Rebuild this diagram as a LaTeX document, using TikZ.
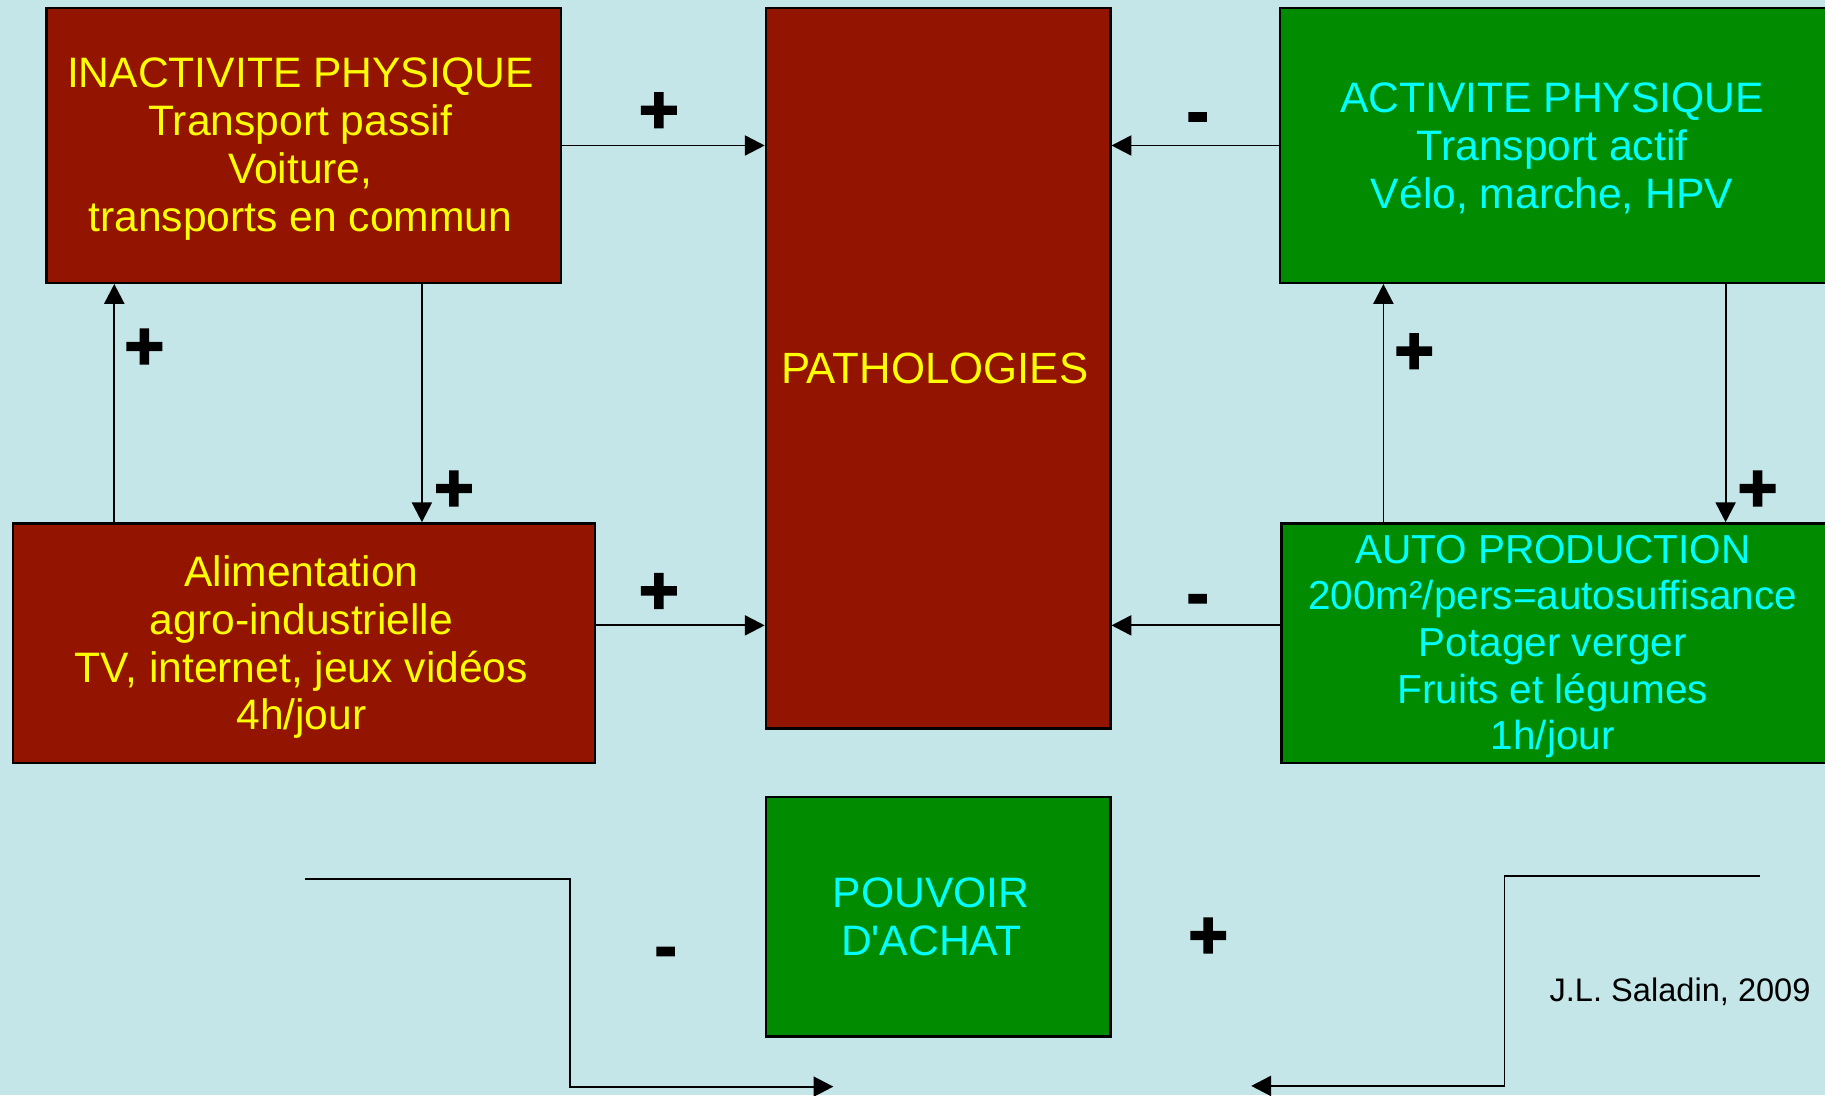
\documentclass[tikz,border=0pt]{standalone}
\usepackage{fontspec}
\newfontfamily\lib{Liberation Sans}[Ligatures=TeXOff]
\newfontfamily\signfont{Liberation Sans}[BoldFeatures={FakeBold=3}]
\usetikzlibrary{arrows.meta,calc}
\definecolor{bg}{RGB}{196,230,232}
\definecolor{boxred}{RGB}{147,20,0}
\definecolor{boxgreen}{RGB}{0,139,0}
\definecolor{txtyellow}{RGB}{255,255,0}
\definecolor{txtcyan}{RGB}{0,255,255}
\begin{document}
\begin{tikzpicture}[x=0.5pt,y=-0.5pt,
  box/.style={draw=black,line width=1pt,rectangle,inner sep=0pt},
  redbox/.style={box,fill=boxred},
  greenbox/.style={box,fill=boxgreen},
  boxtext/.style={inner sep=0pt,align=center,font=\lib\fontsize{18.3}{20.5}\selectfont},
  redtext/.style={boxtext,text=txtyellow},
  greentext/.style={boxtext,text=txtcyan},
  arr/.style={draw=black,line width=0.8pt,-{Triangle[length=8.5pt,width=8.6pt]}},
  plus/.style={inner sep=0pt,text=black,font=\signfont\fontsize{29}{30}\selectfont\bfseries},
  minus/.style={inner sep=0pt,text=black,anchor=base,font=\signfont\fontsize{28}{30}\selectfont\bfseries}]
\fill[bg] (0,0) rectangle (1568,941);
\useasboundingbox (0,0) rectangle (1568,941);

% boxes
\node[redbox,minimum width=221pt,minimum height=118pt] (inact) at (261,125) {};
\node[redbox,minimum width=148pt,minimum height=309.5pt] (path) at (806,316.5) {};
\node[greenbox,minimum width=235pt,minimum height=118pt] (activ) at (1335,125) {};
\node[redbox,minimum width=250pt,minimum height=102.85pt] (alim) at (261,552.5) {};
\node[greenbox,minimum width=234.5pt,minimum height=102.85pt] (auto) at (1335.5,552.5) {};
\node[greenbox,minimum width=148pt,minimum height=103pt] (pouv) at (806,787.6) {};

% box texts
\node[redtext] (inact-t) at ($(inact.center)+(-3,3)$)
  {INACTIVITE PHYSIQUE\\Transport passif\\Voiture,\\transports en commun};
\node[redtext,font=\lib\fontsize{18.8}{21}\selectfont] (path-t) at ($(path.center)+(-3,0)$)
  {PATHOLOGIES};
\node[greentext] (activ-t) at ($(activ.center)+(-1.5,2.5)$)
  {ACTIVITE PHYSIQUE\\Transport actif\\Vélo, marche, HPV};
\node[redtext] (alim-t) at ($(alim.center)+(-2,3.5)$)
  {Alimentation\\agro-industrielle\\TV, internet, jeux vidéos\\4h/jour};
\node[greentext,font=\lib\fontsize{17.4}{20}\selectfont] (auto-t) at ($(auto.center)+(-1.5,3)$)
  {AUTO PRODUCTION\\200m²/pers=autosuffisance\\Potager verger\\Fruits et légumes\\1h/jour};
\node[greentext] (pouv-t) at ($(pouv.center)+(-6,0)$)
  {POUVOIR\\D'ACHAT};

% horizontal connectors to PATHOLOGIES
\draw[arr] (inact.east) -- (inact.east -| path.west);
\draw[arr] (activ.west) -- (activ.west -| path.east);
\coordinate (alimout) at ($(alim.east)+(0,-15.2)$);
\draw[arr] (alimout) -- (alimout -| path.west);
\coordinate (autoout) at ($(auto.west)+(0,-15.2)$);
\draw[arr] (autoout) -- (autoout -| path.east);

% vertical connectors
\coordinate (c1) at ($(inact.south west)+(323.5,0)$);
\draw[arr] (c1) -- (c1 |- alim.north);
\coordinate (c2) at ($(inact.south west)+(59.2,0)$);
\draw[arr] (c2 |- alim.north) -- (c2);
\coordinate (c3) at ($(activ.south west)+(89.6,0)$);
\draw[arr] (c3 |- auto.north) -- (c3);
\coordinate (c4) at ($(activ.south west)+(383.6,0)$);
\draw[arr] (c4) -- (c4 |- auto.north);

% bottom connectors
\coordinate (l0) at (262,755);
\coordinate (l1) at (489.4,755);
\coordinate (l2) at (489.4,933.6);
\coordinate (l3) at (716,933.6);
\draw[arr] (l0) -- (l1) -- (l2) -- (l3);
\coordinate (r0) at (1512,753);
\coordinate (r1) at (1292.6,753);
\coordinate (r2) at (1292.6,933);
\coordinate (r3) at (1075,933);
\draw[arr] (r0) -- (r1) -- (r2) -- (r3);

% signs
\node[plus] (p1) at (566,97) {+};
\node[plus] (p2) at (124,300) {+};
\node[plus] (p3) at (390,422) {+};
\node[plus] (p4) at (566,510) {+};
\node[plus] (p5) at (1215,304) {+};
\node[plus] (p6) at (1510,422) {+};
\node[plus] (p7) at (1038,806) {+};
\node[minus] (m1) at (1029,115) {-};
\node[minus] (m2) at (1029,529) {-};
\node[minus] (m3) at (572,832) {-};

\node[anchor=west,inner sep=0pt,text=black,font=\lib\fontsize{14}{16}\selectfont] (author) at (1331,852) {J.L. Saladin, 2009};
\end{tikzpicture}
\end{document}
